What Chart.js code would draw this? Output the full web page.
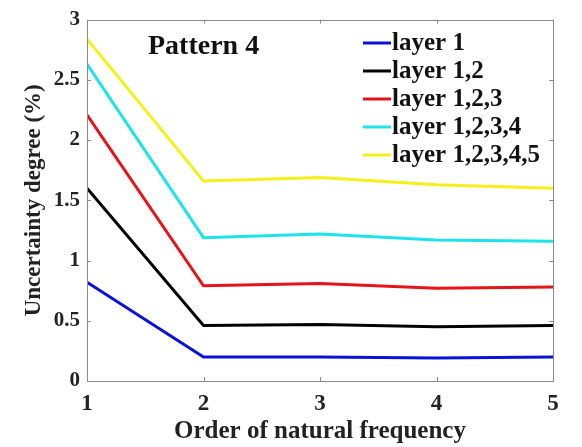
<!DOCTYPE html>
<html>
<head>
<meta charset="utf-8">
<script src="https://cdn.jsdelivr.net/npm/chart.js@4.4.1/dist/chart.umd.min.js"></script>
<style>
  html, body { margin: 0; padding: 0; background: #fff; }
  #wrap { width: 582px; height: 447px; }
</style>
</head>
<body>
<div id="wrap"><canvas id="uncChart" width="582" height="447"></canvas></div>
<script>
const orders = [1, 2, 3, 4, 5]
const seriesNames = ["layer 1", "layer 1,2", "layer 1,2,3", "layer 1,2,3,4", "layer 1,2,3,4,5"]
const layer1 = [0.82, 0.20, 0.20, 0.19, 0.20]
const layer12 = [1.60, 0.46, 0.47, 0.45, 0.46]
const layer123 = [2.21, 0.79, 0.81, 0.77, 0.78]
const layer1234 = [2.63, 1.19, 1.22, 1.17, 1.16]
const layer12345 = [2.84, 1.66, 1.69, 1.63, 1.60]
const yTicks = [0, 0.5, 1, 1.5, 2, 2.5, 3]
const colors = ["#0a12d6", "#000000", "#e4141a", "#1de3ec", "#f5f01a"]

const font = "'Liberation Serif', 'Times New Roman', serif"
const values = [layer1, layer12, layer123, layer1234, layer12345]

// box, inner ticks, title and legend drawn over the plot
const framePlugin = {
    id: "frame",
    afterDraw(chart) {
        const ctx = chart.ctx
        const a = chart.chartArea
        const xs = chart.scales.x
        const ys = chart.scales.y
        ctx.save()
        ctx.strokeStyle = "#8a8a8a"
        ctx.lineWidth = 1
        ctx.strokeRect(Math.round(a.left) + 0.5, Math.round(a.top) + 0.5,
                       Math.round(a.right - a.left), Math.round(a.bottom - a.top))
        ctx.beginPath()
        orders.forEach(v => {
            const px = Math.round(xs.getPixelForValue(v)) + 0.5
            ctx.moveTo(px, a.bottom); ctx.lineTo(px, a.bottom - 4)
            ctx.moveTo(px, a.top); ctx.lineTo(px, a.top + 4)
        })
        yTicks.forEach(v => {
            const py = Math.round(ys.getPixelForValue(v)) + 0.5
            ctx.moveTo(a.left, py); ctx.lineTo(a.left + 4, py)
            ctx.moveTo(a.right, py); ctx.lineTo(a.right - 4, py)
        })
        ctx.stroke()

        ctx.fillStyle = "#111"
        ctx.font = "bold 28px " + font
        ctx.textBaseline = "middle"
        ctx.textAlign = "left"
        ctx.fillText("Pattern 4", 148, 47)

        ctx.font = "bold 25px " + font
        chart.data.datasets.forEach((ds, i) => {
            const y = 43 + i * 28
            ctx.strokeStyle = ds.borderColor
            ctx.lineWidth = 3
            ctx.beginPath()
            ctx.moveTo(363, y); ctx.lineTo(391, y)
            ctx.stroke()
            ctx.fillText(ds.label, 392, y + 1)
        })
        ctx.restore()
    }
}

new Chart(document.getElementById("uncChart"), {
    type: "line",
    data: {
        datasets: seriesNames.map((name, i) => ({
            label: name,
            data: orders.map((x, j) => ({ x, y: values[i][j] })),
            borderColor: colors[i],
            backgroundColor: colors[i],
            borderWidth: 3,
            pointRadius: 0,
            tension: 0
        }))
    },
    options: {
        responsive: false,
        animation: false,
        layout: { padding: { top: 16, right: 29, left: 20, bottom: 0 } },
        plugins: { legend: { display: false }, tooltip: { enabled: false } },
        scales: {
            x: {
                type: "linear", min: 1, max: 5,
                grid: { display: false, drawTicks: false },
                border: { display: false },
                afterBuildTicks: s => { s.ticks = orders.map(v => ({ value: v })) },
                afterFit: s => { s.height = 66 },
                ticks: { color: "#222", font: { family: font, size: 23, weight: "bold" }, padding: 9,
                         maxRotation: 0, callback: v => String(v) },
                title: { display: true, text: "Order of natural frequency", color: "#222",
                         font: { family: font, size: 25, weight: "bold" }, padding: { top: 0, bottom: 0 } }
            },
            y: {
                min: 0, max: 3,
                grid: { display: false, drawTicks: false },
                border: { display: false },
                afterBuildTicks: s => { s.ticks = yTicks.map(v => ({ value: v })) },
                afterFit: s => { s.width = 67 },
                ticks: { color: "#222", font: { family: font, size: 21, weight: "bold" }, padding: 7,
                         callback: v => String(v) },
                title: { display: true, text: "Uncertainty degree (%)", color: "#222",
                         font: { family: font, size: 23, weight: "bold" }, padding: { top: 0, bottom: 0 } }
            }
        }
    },
    plugins: [framePlugin]
})
</script>
</body>
</html>
